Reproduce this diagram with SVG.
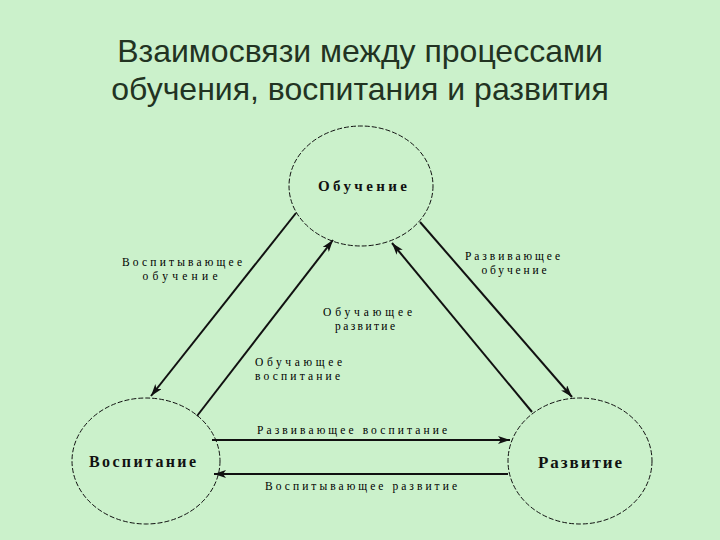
<svg xmlns="http://www.w3.org/2000/svg" width="720" height="540" viewBox="0 0 720 540">
<defs>
<marker id="ah" viewBox="0 0 12 8" refX="12" refY="4" markerWidth="12" markerHeight="8" markerUnits="userSpaceOnUse" orient="auto">
<path d="M0,0 L12,4 L0,8 L3,4 Z" fill="#111"/>
</marker>
<style>
.node ellipse{fill:#cbf1cb;stroke:#111;stroke-width:1;stroke-dasharray:5 2}
.nt{font-family:"Liberation Serif",serif;font-weight:bold;fill:#111;text-anchor:middle}
.lbl{font-family:"Liberation Serif",serif;font-size:11.5px;fill:#000;text-anchor:middle}
.con line{stroke:#111;stroke-width:2;marker-end:url(#ah)}
.title{font-family:"Liberation Sans",sans-serif;font-size:32px;fill:#223322;text-anchor:middle}
</style>
</defs>
<rect width="720" height="540" fill="#cbf1cb"/>
<text class="title" x="360" y="62">Взаимосвязи между процессами</text>
<text class="title" x="360" y="100">обучения, воспитания и развития</text>
<g id="node-obuchenie" class="node">
<ellipse cx="361" cy="186" rx="72" ry="60"/>
<text class="nt" x="362.5" y="191" font-size="15" textLength="89" lengthAdjust="spacing">Обучение</text>
</g>
<g id="node-vospitanie" class="node">
<ellipse cx="146" cy="461" rx="74" ry="63"/>
<text class="nt" x="142.5" y="467" font-size="16" textLength="107" lengthAdjust="spacing">Воспитание</text>
</g>
<g id="node-razvitie" class="node">
<ellipse cx="580" cy="461" rx="72" ry="63"/>
<text class="nt" x="580" y="468" font-size="17" textLength="84" lengthAdjust="spacing">Развитие</text>
</g>
<g id="connectors" class="con">
<line x1="296" y1="213" x2="151" y2="396"/>
<line x1="197" y1="416" x2="333" y2="240"/>
<line x1="420" y1="222" x2="572" y2="397"/>
<line x1="532" y1="412" x2="392" y2="243"/>
<line x1="212" y1="440" x2="510" y2="440"/>
<line x1="508" y1="474" x2="214" y2="474"/>
</g>
<g id="labels">
<text class="lbl" x="182" y="266" textLength="120" lengthAdjust="spacing">Воспитывающее</text>
<text class="lbl" x="180" y="279.5" textLength="75" lengthAdjust="spacing">обучение</text>
<text class="lbl" x="512.5" y="260" textLength="95" lengthAdjust="spacing">Развивающее</text>
<text class="lbl" x="514" y="273.5" textLength="65" lengthAdjust="spacing">обучение</text>
<text class="lbl" x="367.5" y="316" textLength="89" lengthAdjust="spacing">Обучающее</text>
<text class="lbl" x="365" y="329.5" textLength="60" lengthAdjust="spacing">развитие</text>
<text class="lbl" x="298.5" y="366" textLength="87" lengthAdjust="spacing">Обучающее</text>
<text class="lbl" x="297.5" y="379.5" textLength="85" lengthAdjust="spacing">воспитание</text>
<text class="lbl" x="352" y="434" textLength="190" lengthAdjust="spacing">Развивающее воспитание</text>
<text class="lbl" x="361" y="490" textLength="192" lengthAdjust="spacing">Воспитывающее развитие</text>
</g>
</svg>
